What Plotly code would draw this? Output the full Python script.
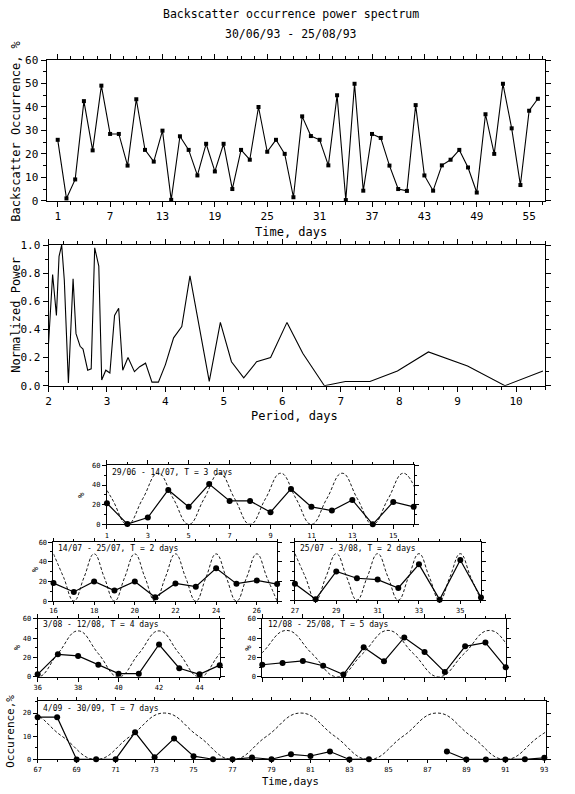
import plotly.graph_objects as go

W, H = 575, 794
FONT = "DejaVu Sans Mono"

# ---------------- data ----------------
days = list(range(1, 57))
occurrence = [26, 1, 9.1, 42.5, 21.5, 49.1, 28.5, 28.5, 15, 43.3, 21.7, 16.7, 29.9, 0.4,
              27.5, 21.7, 10.8, 24.3, 12.5, 24.3, 5, 21.7, 17.5, 40, 20.9, 26, 20, 1.5,
              36, 27.6, 26, 15.1, 45, 0.3, 49.9, 4.3, 28.5, 26.8, 15, 5, 4.2, 40.8,
              10.8, 4.3, 15.1, 17.5, 21.7, 14.2, 3.5, 36.9, 20, 49.9, 30.9, 6.7, 38.4, 43.5]

period = [2.0, 2.07, 2.135, 2.18, 2.225, 2.27, 2.34, 2.42, 2.47, 2.54, 2.59, 2.67, 2.73,
          2.79, 2.86, 2.91, 2.98, 3.05, 3.13, 3.2, 3.27, 3.36, 3.47, 3.56, 3.66, 3.77,
          3.88, 4.0, 4.14, 4.28, 4.42, 4.59, 4.75, 4.94, 5.13, 5.34, 5.56, 5.80, 6.08,
          6.35, 6.72, 7.08, 7.5, 7.97, 8.5, 9.17, 9.81, 10.46]
power = [0.30, 0.79, 0.50, 0.92, 1.0, 0.75, 0.02, 0.76, 0.37, 0.28, 0.26, 0.11, 0.12,
         0.98, 0.85, 0.04, 0.11, 0.09, 0.50, 0.55, 0.11, 0.20, 0.10, 0.135, 0.16, 0.025,
         0.025, 0.15, 0.34, 0.42, 0.78, 0.40, 0.03, 0.45, 0.17, 0.055, 0.17, 0.20, 0.45,
         0.23, 0.0, 0.03, 0.03, 0.105, 0.24, 0.14, 0.0, 0.105]

# small panels: observed occurrence
A_t = list(range(1, 17))
A_v = [21.5, 0.3, 7, 35, 17.8, 41, 23.8, 23.8, 12.4, 36, 17.8, 14, 24.8, 0, 22.8, 17.8]
B_t = list(range(16, 28))
B_v = [18.3, 9.3, 20, 10.7, 20, 4, 18, 14.7, 33.3, 17.7, 21, 17.3]
C_t = list(range(27, 37))
C_v = [16.8, 1, 29.6, 22.6, 21.2, 12.5, 37, 0.5, 41.4, 2.7]
D_t = list(range(36, 46))
D_v = [2.6, 23.3, 21.6, 12.5, 3.3, 3.3, 33.4, 8.9, 2.6, 12.1]
E_t = list(range(45, 58))
E_v = [12.5, 14.2, 16.4, 11.5, 2.3, 30.5, 16, 40.7, 25.6, 4.9, 31.5, 35.4, 9.8]
F_t = list(range(67, 94))
F_v = [18.2, 18.2, 0, 0.1, 0.1, 11.7, 1, 9, 1.4, 0.1, 0.1, 0.8, 0.1, 2.2, 1.5, 3.4, 0,
       0.1, None, None, None, 3.4, 0, 0, 0, 0.1, 0.7]

# small panels: fitted periodic curve (extrema / mid-level points)
A_fit_t = [0.5, 1.25, 2.0, 2.75, 3.5, 4.25, 5.0, 5.75, 6.5, 7.25, 8.0, 8.75, 9.5, 10.25,
           11.0, 11.75, 12.5, 13.25, 14.0, 14.75, 15.5, 16.25]
A_fit_v = [52, 26, 0, 26, 52, 26, 0, 26, 52, 26, 0, 26, 52, 26, 0, 26, 52, 26, 0, 26, 52, 26]
B_fit_t = [16, 16.5, 17, 17.5, 18, 18.5, 19, 19.5, 20, 20.5, 21, 21.5, 22, 22.5, 23,
           23.5, 24, 24.5, 25, 25.5, 26, 26.5, 27]
B_fit_v = [48, 24, 0, 24, 48, 24, 0, 24, 48, 24, 0, 24, 48, 24, 0, 24, 48, 24, 0, 24, 48, 24, 0]
C_fit_t = [27, 27.5, 28, 28.5, 29, 29.5, 30, 30.5, 31, 31.5, 32, 32.5, 33, 33.5, 34,
           34.5, 35, 35.5, 36]
C_fit_v = [48, 24, 0, 24, 48, 24, 0, 24, 48, 24, 0, 24, 48, 24, 0, 24, 48, 24, 0]
D_fit_t = [35, 36, 37, 38, 39, 40, 41, 42, 43, 44, 45, 46]
D_fit_v = [24, 0, 24, 47.5, 24, 0, 24, 47.5, 24, 0, 24, 47.5]
E_fit_t = [43.7, 44.95, 46.2, 47.45, 48.7, 49.95, 51.2, 52.45, 53.7, 54.95, 56.2, 57.45, 58.7]
E_fit_v = [0, 24, 48, 24, 0, 24, 48, 24, 0, 24, 48, 24, 0]
F_fit_t = [64.75, 66.5, 68.25, 70, 71.75, 73.5, 75.25, 77, 78.75, 80.5, 82.25, 84, 85.75,
           87.5, 89.25, 91, 92.75, 94.5]
F_fit_v = [10, 20, 10, 0, 10, 20, 10, 0, 10, 20, 10, 0, 10, 20, 10, 0, 10, 20]

panel_labels = ["29/06 - 14/07, T = 3 days", "14/07 - 25/07, T = 2 days",
                "25/07 - 3/08, T = 2 days", "3/08 - 12/08, T = 4 days",
                "12/08 - 25/08, T = 5 days", "4/09 - 30/09, T = 7 days"]

# ---------------- layout helpers ----------------
def dx(a, b):
    return [a / W, b / W]

def dy(top, bottom):
    return [1 - bottom / H, 1 - top / H]

def axis(domain, rng, dtick, tick0, minor_dtick, size, labels=True, fmt=None, ticklen=5):
    d = dict(domain=domain, range=rng, dtick=dtick, tick0=tick0, tickmode="linear",
             showline=True, linecolor="black", linewidth=1, mirror="allticks",
             ticks="outside", ticklen=ticklen, tickwidth=1, tickcolor="black",
             showgrid=False, zeroline=False, showticklabels=labels,
             tickfont=dict(family=FONT, size=size, color="black"),
             minor=dict(ticks="outside", ticklen=max(2, ticklen - 2), dtick=minor_dtick,
                        tick0=tick0, tickcolor="black", showgrid=False))
    if fmt:
        d["tickformat"] = fmt
    return d

fig = go.Figure()

def data_trace(x, y, xa, ya, symbol="circle", size=6, width=1.2):
    fig.add_trace(go.Scatter(x=x, y=y, xaxis=xa, yaxis=ya, mode="lines+markers",
                             line=dict(color="black", width=width),
                             marker=dict(symbol=symbol, size=size, color="black"),
                             cliponaxis=False, connectgaps=False, showlegend=False))

def fit_trace(x, y, xa, ya):
    fig.add_trace(go.Scatter(x=x, y=y, xaxis=xa, yaxis=ya, mode="lines",
                             line=dict(color="black", width=0.9, dash="3px,2px",
                                       shape="spline", smoothing=1.3),
                             showlegend=False))

# main panel 1
data_trace(days, occurrence, "x", "y", symbol="square", size=4, width=1.1)
# main panel 2
fig.add_trace(go.Scatter(x=period, y=power, xaxis="x2", yaxis="y2", mode="lines",
                         line=dict(color="black", width=1.1), showlegend=False))

small = [
    ("x3", "y3", A_t, A_v, A_fit_t, A_fit_v),
    ("x4", "y4", B_t, B_v, B_fit_t, B_fit_v),
    ("x5", "y5", C_t, C_v, C_fit_t, C_fit_v),
    ("x6", "y6", D_t, D_v, D_fit_t, D_fit_v),
    ("x7", "y7", E_t, E_v, E_fit_t, E_fit_v),
    ("x8", "y8", F_t, F_v, F_fit_t, F_fit_v),
]
for xa, ya, t, v, ft, fv in small:
    fit_trace(ft, fv, xa, ya)
    data_trace(t, v, xa, ya, size=6, width=1.2)

S = 7
layout = dict(
    width=W, height=H, margin=dict(l=0, r=0, t=0, b=0),
    paper_bgcolor="white", plot_bgcolor="white", showlegend=False,
    xaxis=axis(dx(43, 547), [-0.28, 56.85], 6, 1, 1.5, 11),
    yaxis=axis(dy(55, 198), [0, 60], 10, 0, 5, 11),
    xaxis2=axis(dx(45, 547), [2, 10.5], 1, 2, 0.25, 11),
    yaxis2=axis(dy(243, 386), [0, 1], 0.2, 0, 0.1, 11, fmt=".1f"),
    xaxis3=axis(dx(104, 414), [1, 16], 2, 1, 1, S, ticklen=4),
    yaxis3=axis(dy(467, 527), [0, 60], 20, 0, 10, S, ticklen=4),
    xaxis4=axis(dx(50, 276), [16, 27], 2, 16, 1, S, ticklen=3),
    yaxis4=axis(dy(545, 605), [0, 60], 20, 0, 10, S, ticklen=4),
    xaxis5=axis(dx(294, 482), [27, 36], 2, 27, 1, S, ticklen=3),
    yaxis5=axis(dy(545, 604), [0, 60], 20, 0, 10, S, labels=False, ticklen=4),
    xaxis6=axis(dx(34, 218), [36, 45], 2, 36, 1, S, ticklen=4),
    yaxis6=axis(dy(623, 682), [0, 60], 20, 0, 10, S, ticklen=4),
    xaxis7=axis(dx(261, 507), [45, 57], 2, 45, 1, S, labels=False, ticklen=4),
    yaxis7=axis(dy(623, 682), [0, 60], 20, 0, 10, S, ticklen=4),
    xaxis8=axis(dx(34, 548), [67, 93.1], 2, 67, 1, S, ticklen=3),
    yaxis8=axis(dy(707, 766), [0, 25], 10, 0, 5, S, ticklen=4),
)
for i in range(1, 9):
    s = "" if i == 1 else str(i)
    layout["xaxis" + s]["anchor"] = "y" + s
    layout["yaxis" + s]["anchor"] = "x" + s
fig.update_layout(**layout)

def ann(x, y, text, size, angle=0, xanchor="center", yanchor="middle"):
    fig.add_annotation(x=x / W, y=1 - y / H, xref="paper", yref="paper", text=text,
                       showarrow=False, textangle=angle, xanchor=xanchor, yanchor=yanchor,
                       font=dict(family=FONT, size=size, color="black"))

ann(290, 8, "Backscatter occurrence power spectrum", 11.5)
ann(290, 28, "30/06/93 - 25/08/93", 11.5)
ann(12, 127, "Backscatter Occurrence, %", 12, angle=-90)
ann(290, 230, "Time, days", 12)
ann(12, 314, "Normalized Power", 12, angle=-90)
ann(294, 417, "Period, days", 12)

ann(78, 497, "%", 9, angle=-90)
ann(31, 573, "%", 9, angle=-90)
ann(13, 652, "%", 9, angle=-90)
ann(247, 652, "%", 9, angle=-90)
ann(7, 737, "Occurence,%", 11, angle=-90)
ann(290, 788, "Time,days", 10.5)

label_pos = [(107, 474), (53, 552), (297, 552), (37, 629), (265, 629), (37, 714)]
for (lx, ly), txt in zip(label_pos, panel_labels):
    ann(lx, ly, txt, 8, xanchor="left")

fig.write_html("out.html")
